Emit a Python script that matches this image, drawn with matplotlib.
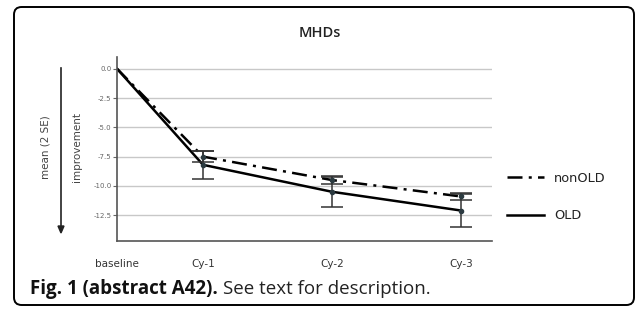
import matplotlib.pyplot as plt
from matplotlib.patches import FancyBboxPatch

# data
visits = ["baseline", "Cy-1", "Cy-2", "Cy-3"]
visit_pos = [0, 2, 5, 8]
old_mean = [0.0, -8.2, -10.5, -12.1]
old_err = [0.0, 1.2, 1.3, 1.4]
nonold_mean = [0.0, -7.5, -9.5, -10.9]
nonold_err = [0.0, 0.5, 0.35, 0.3]
yticks = [0.0, -2.5, -5.0, -7.5, -10.0, -12.5]

plt.rcParams['font.family'] = ['Open Sans', 'DejaVu Sans']

fig = plt.figure(figsize=(6.37, 3.09), dpi=100)

# rounded frame round the whole figure
frame = FancyBboxPatch((14 / 637, 4 / 309), 620 / 637, 298 / 309,
                       boxstyle="round,pad=0,rounding_size=0.012",
                       transform=fig.transFigure, fill=False,
                       edgecolor='black', linewidth=1.4, mutation_aspect=2.06)
fig.patches.append(frame)

ax = fig.add_axes([117 / 637, 68 / 309, 375 / 637, 184 / 309])

ax.plot(visit_pos, nonold_mean, color='black', lw=1.8,
        dashes=(6, 2.5, 1.2, 2.5), label='nonOLD')
ax.plot(visit_pos, old_mean, color='black', lw=1.8, label='OLD')

ax.errorbar(visit_pos[1:], nonold_mean[1:], yerr=nonold_err[1:], fmt='o',
            ms=3, color='#2b3a40', ecolor='#333333', elinewidth=1.1,
            capsize=8, capthick=1.1)
ax.errorbar(visit_pos[1:], old_mean[1:], yerr=old_err[1:], fmt='o',
            ms=3, color='#2b3a40', ecolor='#333333', elinewidth=1.1,
            capsize=8, capthick=1.1)

ax.set_xlim(0, 8.72)
ax.set_ylim(-14.7, 1.0)
ax.set_yticks(yticks)
ax.set_yticklabels([f"{v:.1f}" for v in yticks], fontsize=5, color='#666666',
                   family='DejaVu Sans')
ax.set_xticks(visit_pos)
ax.set_xticklabels(visits, fontsize=7.5, color='#333333', family='DejaVu Sans')
ax.tick_params(axis='x', length=0, pad=13)
ax.tick_params(axis='y', length=3, width=0.8, color='#666666', pad=1)
ax.grid(axis='y', color='#c8c8c8', lw=1)
ax.set_axisbelow(True)
for s in ['top', 'right']:
    ax.spines[s].set_visible(False)
for s in ['left', 'bottom']:
    ax.spines[s].set_color('#555555')
    ax.spines[s].set_linewidth(1.2)

# legend drawn to the right of the axes
leg = ax.legend(loc='center left', bbox_to_anchor=(1.01, 0.24), frameon=False,
                handlelength=2.8, labelspacing=1.9,
                prop={'family': 'DejaVu Sans', 'size': 9.3})
for t in leg.get_texts():
    t.set_color('#222222')

fig.text(320 / 637, 1 - 33 / 309, "MHDs", ha='center', va='center',
         fontsize=10.5, fontweight='semibold', color='#222222')

# y label with a downward arrow
fig.text(45 / 637, 1 - 147 / 309, "mean (2 SE)", rotation=90, ha='center',
         va='center', fontsize=7.5, color='#444444', family='DejaVu Sans')
fig.text(77 / 637, 1 - 147 / 309, "improvement", rotation=90, ha='center',
         va='center', fontsize=7.5, color='#444444', family='DejaVu Sans')
fig.add_artist(plt.Line2D([61 / 637, 61 / 637], [1 - 68 / 309, 1 - 228 / 309],
                          color='#222222', lw=1.2, transform=fig.transFigure))
fig.patches.append(plt.Polygon([[58 / 637, 1 - 226 / 309], [64 / 637, 1 - 226 / 309],
                                [61 / 637, 1 - 233 / 309]], closed=True,
                               color='#222222', transform=fig.transFigure))

# caption: bold part then normal part
fig.canvas.draw()
cap_y = 1 - 289 / 309
t1 = fig.text(30 / 637, cap_y, "Fig. 1 (abstract A42).", fontsize=13.5,
              fontweight='bold', va='center', color='#111111')
bb = t1.get_window_extent(renderer=fig.canvas.get_renderer())
fig.text(bb.x1 / fig.bbox.width + 5 / 637, cap_y, "See text for description.",
         fontsize=13.5, va='center', color='#222222')

fig.savefig('out.png', dpi=100)
